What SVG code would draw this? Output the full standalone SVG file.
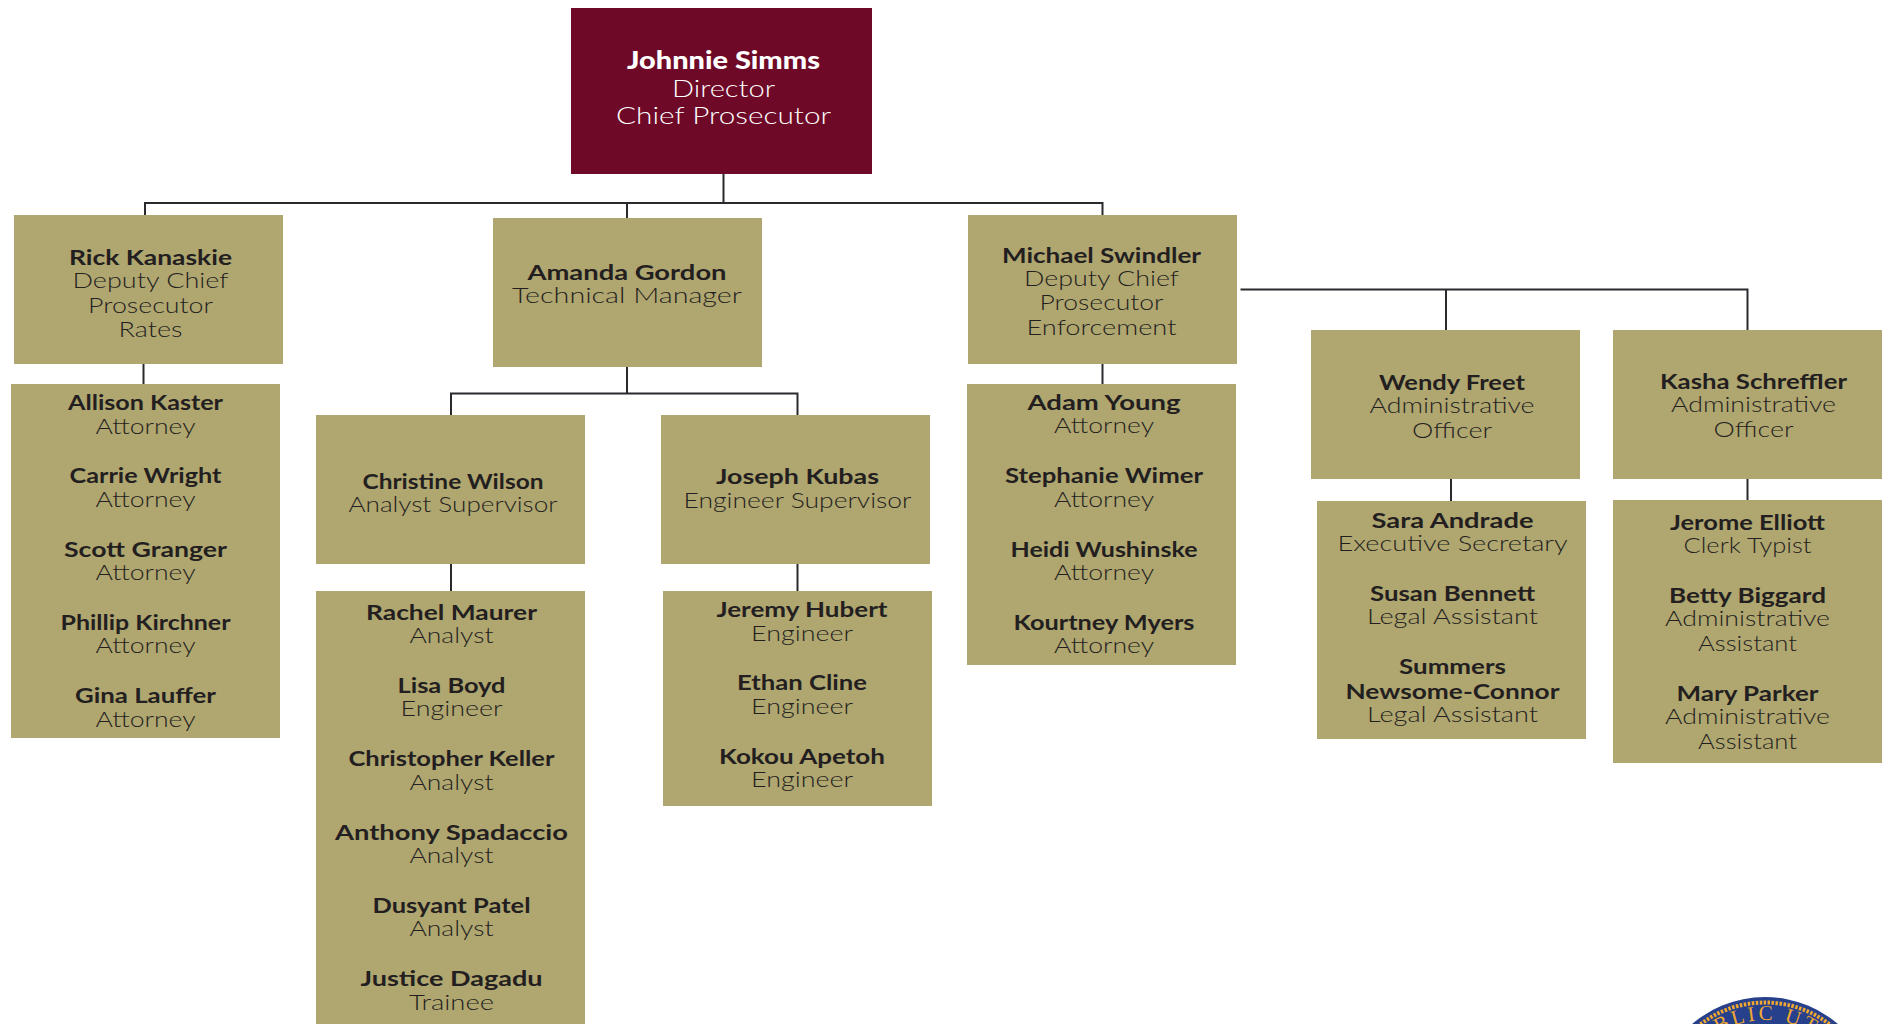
<svg xmlns="http://www.w3.org/2000/svg" width="1889" height="1024" viewBox="0 0 1889 1024">
<style>
.b{fill:#b0a670}
.d{fill:#6e0a28}
text{font-family:"Lato","Liberation Sans",sans-serif;font-size:21px;fill:#231f20;text-anchor:middle}
.n{font-weight:700;transform:translateY(1px)}
.r{font-weight:300}
.w{fill:#fff;font-size:24px}
#connectors path{fill:none;stroke:#2a2a2e;stroke-width:2}
</style>
<rect width="1889" height="1024" fill="#fff"/>
<g id="connectors">
<path d="M723.500 174V203M145 215V203H1102.500V215M627 203V218"/>
<path d="M143.500 364V384"/>
<path d="M627 367V393.500M451 415V393.500H797.500V415"/>
<path d="M451 564V591M797.500 564V591"/>
<path d="M1102.500 364V384"/>
<path d="M1240.500 289.500H1747.500V330M1446 289.500V330"/>
<path d="M1451 479V501M1747.500 479V500"/>
</g>
<g id="director"><rect class="d" x="571" y="8" width="301" height="166"/>
<text lengthAdjust="spacingAndGlyphs" class="n w" style="font-weight:900" x="723.500" y="68" textLength="193">Johnnie Simms</text><text lengthAdjust="spacingAndGlyphs" class="r w" x="723.500" y="97" textLength="103">Director</text><text lengthAdjust="spacingAndGlyphs" class="r w" x="723.500" y="124" textLength="215">Chief Prosecutor</text></g>
<g id="rick"><rect class="b" x="14" y="215" width="269" height="149"/>
<text lengthAdjust="spacingAndGlyphs" class="n" x="150.500" y="264" textLength="163">Rick Kanaskie</text><text lengthAdjust="spacingAndGlyphs" class="r" x="150.500" y="288" textLength="156">Deputy Chief</text><text lengthAdjust="spacingAndGlyphs" class="r" x="150.500" y="313" textLength="125">Prosecutor</text><text lengthAdjust="spacingAndGlyphs" class="r" x="150.500" y="337" textLength="64">Rates</text></g>
<g id="amanda"><rect class="b" x="493" y="218" width="269" height="149"/>
<text lengthAdjust="spacingAndGlyphs" class="n" x="627" y="279" textLength="199">Amanda Gordon</text><text lengthAdjust="spacingAndGlyphs" class="r" x="627" y="303" textLength="230">Technical Manager</text></g>
<g id="michael"><rect class="b" x="968" y="215" width="269" height="149"/>
<text lengthAdjust="spacingAndGlyphs" class="n" x="1101.500" y="262" textLength="199">Michael Swindler</text><text lengthAdjust="spacingAndGlyphs" class="r" x="1101.500" y="286" textLength="155">Deputy Chief</text><text lengthAdjust="spacingAndGlyphs" class="r" x="1101.500" y="310" textLength="124">Prosecutor</text><text lengthAdjust="spacingAndGlyphs" class="r" x="1101.500" y="335" textLength="150">Enforcement</text></g>
<g id="attorneys-rates"><rect class="b" x="11" y="384" width="269" height="354"/>
<text lengthAdjust="spacingAndGlyphs" class="n" x="145.500" y="409" textLength="155">Allison Kaster</text><text lengthAdjust="spacingAndGlyphs" class="r" x="145.500" y="434" textLength="100">Attorney</text>
<text lengthAdjust="spacingAndGlyphs" class="n" x="145.500" y="482" textLength="152">Carrie Wright</text><text lengthAdjust="spacingAndGlyphs" class="r" x="145.500" y="507" textLength="100">Attorney</text>
<text lengthAdjust="spacingAndGlyphs" class="n" x="145.500" y="556" textLength="163">Scott Granger</text><text lengthAdjust="spacingAndGlyphs" class="r" x="145.500" y="580" textLength="100">Attorney</text>
<text lengthAdjust="spacingAndGlyphs" class="n" x="145.500" y="629" textLength="170">Phillip Kirchner</text><text lengthAdjust="spacingAndGlyphs" class="r" x="145.500" y="653" textLength="100">Attorney</text>
<text lengthAdjust="spacingAndGlyphs" class="n" x="145.500" y="702" textLength="141">Gina Lauffer</text><text lengthAdjust="spacingAndGlyphs" class="r" x="145.500" y="727" textLength="100">Attorney</text></g>
<g id="christine"><rect class="b" x="316" y="415" width="269" height="149"/>
<text lengthAdjust="spacingAndGlyphs" class="n" x="453" y="488" textLength="181">Christine Wilson</text><text lengthAdjust="spacingAndGlyphs" class="r" x="453" y="512" textLength="209">Analyst Supervisor</text></g>
<g id="joseph"><rect class="b" x="661" y="415" width="269" height="149"/>
<text lengthAdjust="spacingAndGlyphs" class="n" x="797.500" y="483" textLength="163">Joseph Kubas</text><text lengthAdjust="spacingAndGlyphs" class="r" x="797.500" y="508" textLength="228">Engineer Supervisor</text></g>
<g id="analysts"><rect class="b" x="316" y="591" width="269" height="433"/>
<text lengthAdjust="spacingAndGlyphs" class="n" x="451.500" y="619" textLength="171">Rachel Maurer</text><text lengthAdjust="spacingAndGlyphs" class="r" x="451.500" y="643" textLength="84">Analyst</text>
<text lengthAdjust="spacingAndGlyphs" class="n" x="451.500" y="692" textLength="108">Lisa Boyd</text><text lengthAdjust="spacingAndGlyphs" class="r" x="451.500" y="716" textLength="102">Engineer</text>
<text lengthAdjust="spacingAndGlyphs" class="n" x="451.500" y="765" textLength="206">Christopher Keller</text><text lengthAdjust="spacingAndGlyphs" class="r" x="451.500" y="790" textLength="84">Analyst</text>
<text lengthAdjust="spacingAndGlyphs" class="n" x="451.500" y="839" textLength="233">Anthony Spadaccio</text><text lengthAdjust="spacingAndGlyphs" class="r" x="451.500" y="863" textLength="84">Analyst</text>
<text lengthAdjust="spacingAndGlyphs" class="n" x="451.500" y="912" textLength="158">Dusyant Patel</text><text lengthAdjust="spacingAndGlyphs" class="r" x="451.500" y="936" textLength="84">Analyst</text>
<text lengthAdjust="spacingAndGlyphs" class="n" x="451.500" y="985" textLength="182">Justice Dagadu</text><text lengthAdjust="spacingAndGlyphs" class="r" x="451.500" y="1010" textLength="85">Trainee</text></g>
<g id="engineers"><rect class="b" x="663" y="591" width="269" height="215"/>
<text lengthAdjust="spacingAndGlyphs" class="n" x="802" y="616" textLength="171">Jeremy Hubert</text><text lengthAdjust="spacingAndGlyphs" class="r" x="802" y="641" textLength="102">Engineer</text>
<text lengthAdjust="spacingAndGlyphs" class="n" x="802" y="689" textLength="130">Ethan Cline</text><text lengthAdjust="spacingAndGlyphs" class="r" x="802" y="714" textLength="102">Engineer</text>
<text lengthAdjust="spacingAndGlyphs" class="n" x="802" y="763" textLength="166">Kokou Apetoh</text><text lengthAdjust="spacingAndGlyphs" class="r" x="802" y="787" textLength="102">Engineer</text></g>
<g id="attorneys-enforcement"><rect class="b" x="967" y="384" width="269" height="281"/>
<text lengthAdjust="spacingAndGlyphs" class="n" x="1104" y="409" textLength="153">Adam Young</text><text lengthAdjust="spacingAndGlyphs" class="r" x="1104" y="433" textLength="100">Attorney</text>
<text lengthAdjust="spacingAndGlyphs" class="n" x="1104" y="482" textLength="198">Stephanie Wimer</text><text lengthAdjust="spacingAndGlyphs" class="r" x="1104" y="507" textLength="100">Attorney</text>
<text lengthAdjust="spacingAndGlyphs" class="n" x="1104" y="556" textLength="187">Heidi Wushinske</text><text lengthAdjust="spacingAndGlyphs" class="r" x="1104" y="580" textLength="100">Attorney</text>
<text lengthAdjust="spacingAndGlyphs" class="n" x="1104" y="629" textLength="181">Kourtney Myers</text><text lengthAdjust="spacingAndGlyphs" class="r" x="1104" y="653" textLength="100">Attorney</text></g>
<g id="wendy"><rect class="b" x="1311" y="330" width="269" height="149"/>
<text lengthAdjust="spacingAndGlyphs" class="n" x="1452" y="389" textLength="146">Wendy Freet</text><text lengthAdjust="spacingAndGlyphs" class="r" x="1452" y="413" textLength="165">Administrative</text><text lengthAdjust="spacingAndGlyphs" class="r" x="1452" y="438" textLength="80">Officer</text></g>
<g id="kasha"><rect class="b" x="1613" y="330" width="269" height="149"/>
<text lengthAdjust="spacingAndGlyphs" class="n" x="1753.500" y="388" textLength="187">Kasha Schreffler</text><text lengthAdjust="spacingAndGlyphs" class="r" x="1753.500" y="412" textLength="165">Administrative</text><text lengthAdjust="spacingAndGlyphs" class="r" x="1753.500" y="437" textLength="80">Officer</text></g>
<g id="assistants"><rect class="b" x="1317" y="501" width="269" height="238"/>
<text lengthAdjust="spacingAndGlyphs" class="n" x="1452.500" y="527" textLength="162">Sara Andrade</text><text lengthAdjust="spacingAndGlyphs" class="r" x="1452.500" y="551" textLength="230">Executive Secretary</text>
<text lengthAdjust="spacingAndGlyphs" class="n" x="1452.500" y="600" textLength="165">Susan Bennett</text><text lengthAdjust="spacingAndGlyphs" class="r" x="1452.500" y="624" textLength="171">Legal Assistant</text>
<text lengthAdjust="spacingAndGlyphs" class="n" x="1452.500" y="673" textLength="107">Summers</text><text lengthAdjust="spacingAndGlyphs" class="n" x="1452.500" y="698" textLength="214">Newsome-Connor</text><text lengthAdjust="spacingAndGlyphs" class="r" x="1452.500" y="722" textLength="171">Legal Assistant</text></g>
<g id="clerks"><rect class="b" x="1613" y="500" width="269" height="263"/>
<text lengthAdjust="spacingAndGlyphs" class="n" x="1747.500" y="529" textLength="155">Jerome Elliott</text><text lengthAdjust="spacingAndGlyphs" class="r" x="1747.500" y="553" textLength="128">Clerk Typist</text>
<text lengthAdjust="spacingAndGlyphs" class="n" x="1747.500" y="602" textLength="157">Betty Biggard</text><text lengthAdjust="spacingAndGlyphs" class="r" x="1747.500" y="626" textLength="165">Administrative</text><text lengthAdjust="spacingAndGlyphs" class="r" x="1747.500" y="651" textLength="99">Assistant</text>
<text lengthAdjust="spacingAndGlyphs" class="n" x="1747.500" y="700" textLength="142">Mary Parker</text><text lengthAdjust="spacingAndGlyphs" class="r" x="1747.500" y="724" textLength="165">Administrative</text><text lengthAdjust="spacingAndGlyphs" class="r" x="1747.500" y="749" textLength="99">Assistant</text></g>
<g id="seal">
<defs><path id="arc" d="M1676 1109A89 89 0 0 1 1854 1109"/></defs>
<circle cx="1765" cy="1109" r="112" fill="#27408b"/>
<circle cx="1765" cy="1109" r="106.500" fill="none" stroke="#f0a830" stroke-width="4" stroke-dasharray="2.500 1.500"/>
<text style="font-family:'Liberation Serif',serif;font-size:21px;fill:#f0a830;letter-spacing:3px;text-anchor:start"><textPath href="#arc" startOffset="72">UBLIC UTI</textPath></text>
</g>
</svg>
